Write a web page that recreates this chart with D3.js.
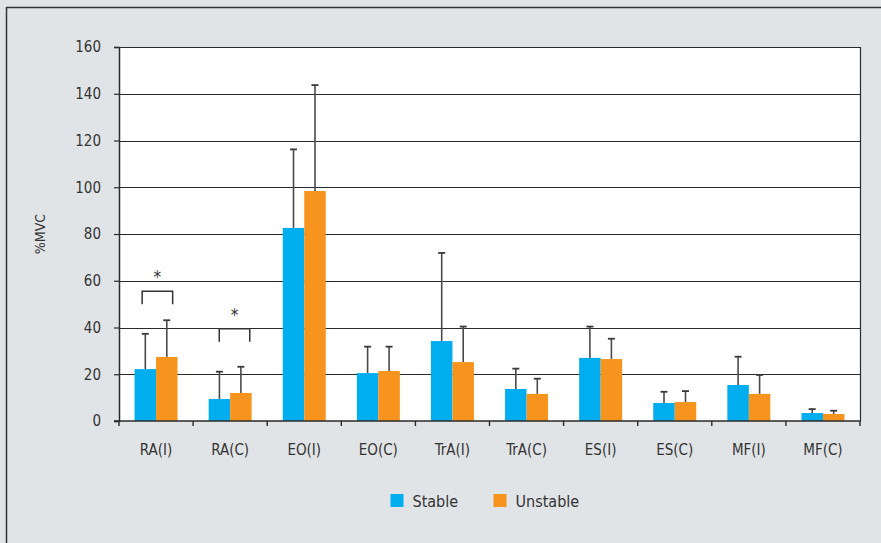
<!DOCTYPE html>
<html>
<head>
<meta charset="utf-8">
<script src="https://cdn.jsdelivr.net/npm/d3@7"></script>
<style>
  html, body { margin: 0; padding: 0; background: #e1e4e7; }
  svg { display: block; }
  text { font-family: "Liberation Sans Narrow", "DejaVu Sans Condensed", "Roboto", sans-serif; fill: #333; }
</style>
</head>
<body>
<svg id="chart" width="881" height="543"></svg>
<script>
// Muscle activation (%MVC) on stable vs unstable surfaces
const categories = ["RA(I)", "RA(C)", "EO(I)", "EO(C)", "TrA(I)", "TrA(C)", "ES(I)", "ES(C)", "MF(I)", "MF(C)"];
const seriesNames = ["Stable", "Unstable"];
const stableMean = [22.2, 9.4, 82.6, 20.5, 34.2, 13.7, 27.0, 7.7, 15.4, 3.4];
const stableUpper = [37.3, 21.1, 116.2, 31.8, 71.9, 22.4, 40.4, 12.5, 27.5, 5.1];
const unstableMean = [27.4, 12.0, 98.4, 21.4, 25.2, 11.6, 26.5, 8.1, 11.6, 3.0];
const unstableUpper = [43.1, 23.2, 143.7, 31.8, 40.4, 18.1, 35.2, 12.8, 19.7, 4.4];
const yTicks = [0, 20, 40, 60, 80, 100, 120, 140, 160];
// significance brackets: category index and bracket height (%MVC)
const sigCategories = [0, 1];
const sigLevels = [55.5, 39.5];

const colors = { Stable: "#00aeef", Unstable: "#f7941d" };

const svg = d3.select("#chart");
const W = 881, H = 543;
const margin = { left: 119, right: 21, top: 47, bottom: 122 };
const innerW = W - margin.left - margin.right;
const innerH = H - margin.top - margin.bottom;

// outer frame lines (top and left)
svg.append("line").attr("x1", 6).attr("x2", W).attr("y1", 7.5).attr("y2", 7.5)
  .attr("stroke", "#333").attr("stroke-width", 1.5);
svg.append("line").attr("x1", 6.5).attr("x2", 6.5).attr("y1", 7).attr("y2", H)
  .attr("stroke", "#333").attr("stroke-width", 1.5);

const g = svg.append("g").attr("transform", `translate(${margin.left},${margin.top})`);

const x0 = d3.scaleBand().domain(categories).range([0, innerW]).paddingInner(0.42).paddingOuter(0.21);
const x1 = d3.scaleBand().domain(seriesNames).range([0, x0.bandwidth()]);
const y = d3.scaleLinear().domain([0, 160]).range([innerH, 0]);

// plot background
g.append("rect").attr("width", innerW).attr("height", innerH).attr("fill", "#fff");

// gridlines
g.selectAll("line.grid").data(yTicks.filter(d => d > 0)).join("line")
  .attr("class", "grid")
  .attr("x1", 0).attr("x2", innerW)
  .attr("y1", d => Math.round(y(d)) + 0.5).attr("y2", d => Math.round(y(d)) + 0.5)
  .attr("stroke", "#2a2a2a").attr("stroke-width", 1.1);

// right border
g.append("line").attr("x1", innerW + 0.5).attr("x2", innerW + 0.5).attr("y1", 0).attr("y2", innerH)
  .attr("stroke", "#2a2a2a").attr("stroke-width", 1.2);

const rows = categories.map((c, i) => ({
  cat: c,
  vals: [
    { s: "Stable", mean: stableMean[i], upper: stableUpper[i] },
    { s: "Unstable", mean: unstableMean[i], upper: unstableUpper[i] }
  ]
}));

const groups = g.selectAll("g.cat").data(rows).join("g")
  .attr("class", "cat")
  .attr("transform", d => `translate(${x0(d.cat)},0)`);

// error bars (upper only), drawn behind bars
groups.selectAll("g.err").data(d => d.vals).join("g").attr("class", "err").each(function(d) {
  const cx = x1(d.s) + x1.bandwidth() / 2;
  const gg = d3.select(this);
  gg.append("line").attr("x1", cx).attr("x2", cx).attr("y1", y(d.mean)).attr("y2", y(d.upper))
    .attr("stroke", "#4a4a4a").attr("stroke-width", 1.6);
  gg.append("line").attr("x1", cx - 3.5).attr("x2", cx + 3.5).attr("y1", y(d.upper)).attr("y2", y(d.upper))
    .attr("stroke", "#3a3a3a").attr("stroke-width", 1.8);
});

groups.selectAll("rect").data(d => d.vals).join("rect")
  .attr("x", d => x1(d.s))
  .attr("width", x1.bandwidth())
  .attr("y", d => y(d.mean))
  .attr("height", d => innerH - y(d.mean))
  .attr("fill", d => colors[d.s]);

// significance brackets (the second one sits a little right of its group)
sigCategories.forEach((ci, k) => {
  const cat = categories[ci];
  const shift = k === 0 ? 0.5 : 3.5;
  const left = x0(cat) + x1.bandwidth() * 0.33 + shift;
  const right = x0(cat) + x1.bandwidth() * 1.75 + shift;
  const yb = y(sigLevels[k]);
  g.append("path")
    .attr("d", `M${left},${yb + 13}V${yb}H${right}V${yb + 13}`)
    .attr("fill", "none").attr("stroke", "#333").attr("stroke-width", 1.5);
  g.append("text").attr("x", (left + right) / 2).attr("y", yb - 8)
    .attr("text-anchor", "middle").style("font-size", "17px").text("*");
});

// y axis
const yAxis = g.append("g").call(d3.axisLeft(y).tickValues(yTicks).tickSize(5).tickPadding(13));
yAxis.select(".domain").attr("stroke", "#2a2a2a").attr("stroke-width", 1.5);
yAxis.selectAll(".tick line").attr("stroke", "#2a2a2a").attr("stroke-width", 1.2);
yAxis.selectAll("text").style("font-size", "15px").attr("fill", "#333");

// x axis with ticks at band boundaries
const xAxisG = g.append("g").attr("transform", `translate(0,${innerH})`);
xAxisG.append("line").attr("x1", -5).attr("x2", innerW + 1).attr("y1", 0).attr("y2", 0)
  .attr("stroke", "#2a2a2a").attr("stroke-width", 1.6);
const step = x0.step();
const boundaries = d3.range(categories.length + 1).map(i => x0(categories[0]) - x0.paddingOuter() * step + i * step);
xAxisG.selectAll("line.xt").data(boundaries).join("line").attr("class", "xt")
  .attr("x1", d => d).attr("x2", d => d).attr("y1", 0).attr("y2", 5)
  .attr("stroke", "#2a2a2a").attr("stroke-width", 1.4);
xAxisG.selectAll("text").data(categories).join("text")
  .attr("x", d => x0(d) + x0.bandwidth() / 2).attr("y", 34)
  .attr("text-anchor", "middle").style("font-size", "15px").text(d => d);

// y axis title
svg.append("text").attr("transform", `translate(45,234) rotate(-90)`)
  .attr("text-anchor", "middle").style("font-size", "14px").text("%MVC");

// legend
const legend = svg.append("g");
const legendX = [390.5, 493.5];
seriesNames.forEach((s, i) => {
  legend.append("rect").attr("x", legendX[i]).attr("y", 494).attr("width", 13).attr("height", 13)
    .attr("fill", colors[s]);
  legend.append("text").attr("x", legendX[i] + 22).attr("y", 507).style("font-size", "16px").text(s);
});
</script>
</body>
</html>
